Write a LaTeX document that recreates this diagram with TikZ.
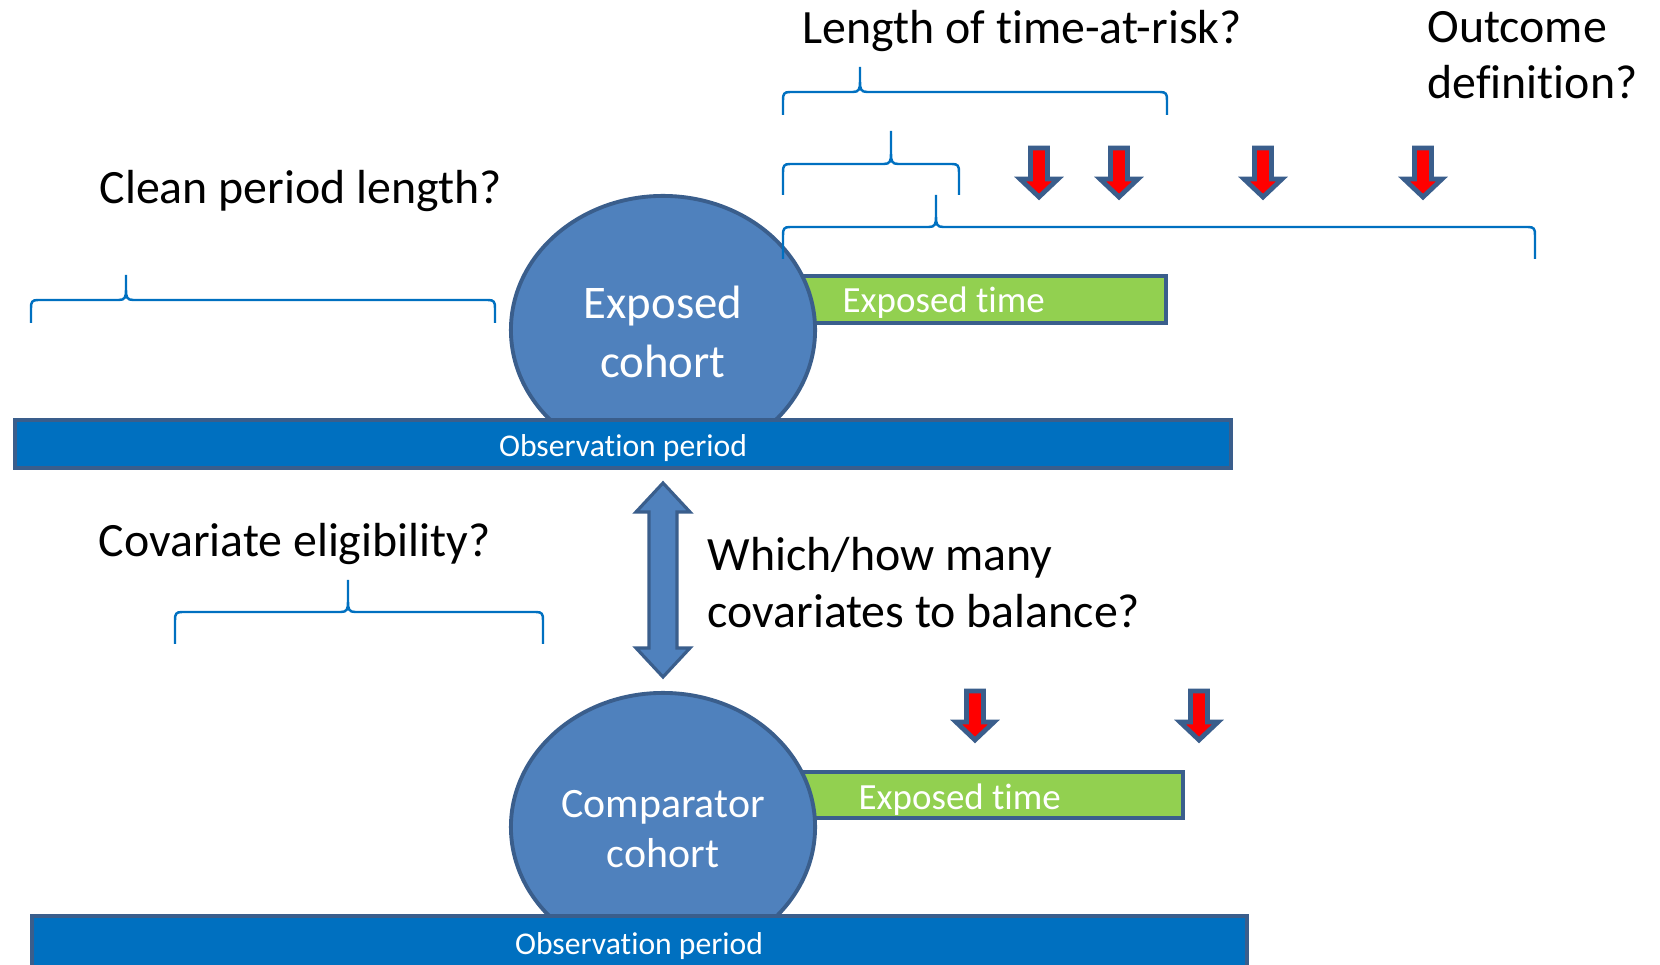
\documentclass[tikz,border=0pt]{standalone}
\usepackage{fontspec}
\setmainfont{Carlito}[Ligatures=NoCommon]
\usetikzlibrary{shapes.geometric}
\definecolor{cohortblue}{HTML}{4F81BD}
\definecolor{edgeblue}{HTML}{3A5E8C}
\definecolor{obsblue}{HTML}{0070C0}
\definecolor{timegreen}{HTML}{92D050}

\begin{document}
\begin{tikzpicture}[x=0.01cm,y=-0.01cm,
	cohort/.style={ellipse,draw=edgeblue,fill=cohortblue,line width=1.1pt,minimum width=3.04cm,minimum height=2.68cm,inner sep=0pt},
	cohortlabel/.style={text=white,align=center,inner sep=0pt},
	obsbar/.style={draw=edgeblue,fill=obsblue,line width=1.1pt},
	obstext/.style={text=white,inner sep=0pt,anchor=base,font=\fontsize{9}{11}\selectfont},
	timebar/.style={draw=edgeblue,fill=timegreen,line width=1.1pt},
	bracepath/.style={draw=obsblue,line width=0.7pt},
	outcome/.style={draw=edgeblue,fill=red,line width=1.35pt,line join=miter},
	question/.style={anchor=base west,inner sep=0pt,align=left,font=\fontsize{13.6}{16}\selectfont}]
	\useasboundingbox (0,0) rectangle (1660,965);
	\def\cbrace#1#2#3#4#5#6{\draw[bracepath] (#1,#5) -- (#1,#4+8) .. controls (#1,#4+2) and (#1+1,#4) .. (#1+7,#4) -- (#3-7,#4) .. controls (#3-1,#4) and (#3,#4-3) .. (#3,#4-10) -- (#3,#6) (#3,#4-10) .. controls (#3,#4-3) and (#3+1,#4) .. (#3+7,#4) -- (#2-7,#4) .. controls (#2-1,#4) and (#2,#4+2) .. (#2,#4+8) -- (#2,#5);}
	\def\outarrow#1#2{\draw[outcome] (#1-8.5,#2) -- (#1+8.5,#2) -- (#1+8.5,#2+31) -- (#1+19,#2+31) -- (#1,#2+49) -- (#1-19,#2+31) -- (#1-8.5,#2+31) -- cycle;}
	% exposed cohort
	\draw[timebar] (790,276) rectangle (1166,323);
	\node[cohort] (exp) at (663,330) {};
	\node[cohortlabel,font=\fontsize{13.3}{16.8}\selectfont] (explabel) at ([yshift=-0.02cm]exp.center) {Exposed\\cohort};
	\draw[obsbar] (15,420) rectangle (1231,468);
	\node[obstext] (obs1) at (623,457) {Observation period};
	\node[anchor=base west,inner sep=0pt,text=white,font=\fontsize{10.5}{12}\selectfont] (time1) at (842,313) {Exposed time};
	% comparator cohort
	\draw[timebar] (790,772) rectangle (1183,818);
	\node[cohort] (cmp) at (663,827) {};
	\node[cohortlabel,font=\fontsize{11.9}{14.2}\selectfont] (cmplabel) at ([yshift=-0.02cm]cmp.center) {Comparator\\cohort};
	\draw[obsbar] (32,916) rectangle (1247,972);
	\node[obstext] (obs2) at (639,955) {Observation period};
	\node[anchor=base west,inner sep=0pt,text=white,font=\fontsize{10.5}{12}\selectfont] (time2) at (858,810) {Exposed time};
	% balance arrow
	\draw[draw=edgeblue,fill=cohortblue,line width=0.9pt,line join=miter] (663,483) -- (690,512) -- (677,512) -- (677,648) -- (690,648) -- (663,677) -- (636,648) -- (649,648) -- (649,512) -- (636,512) -- cycle;
	% braces
	\cbrace{31}{495}{126}{300}{323}{275}
	\cbrace{783}{1167}{860}{92}{115}{67}
	\cbrace{783}{959}{891}{164}{195}{131}
	\cbrace{783}{1535}{936}{227}{259}{195}
	\cbrace{175}{543}{348}{612}{644}{580}
	% outcomes
	\foreach \x in {1039,1119,1263,1423} {\outarrow{\x}{148}}
	\foreach \x in {975,1199} {\outarrow{\x}{691}}
	% questions
	\node[question] (clean) at (99,204) {Clean period length?};
	\node[question] (risk) at (802,44) {Length of time-at-risk?};
	\node[question,anchor=north west] (outdef) at (1427,11) {Outcome\\definition?};
	\node[question] (elig) at (98,557) {Covariate eligibility?};
	\node[question,anchor=north west] (howmany) at (707,537) {Which/how many\\covariates to balance?};
\end{tikzpicture}
\end{document}
